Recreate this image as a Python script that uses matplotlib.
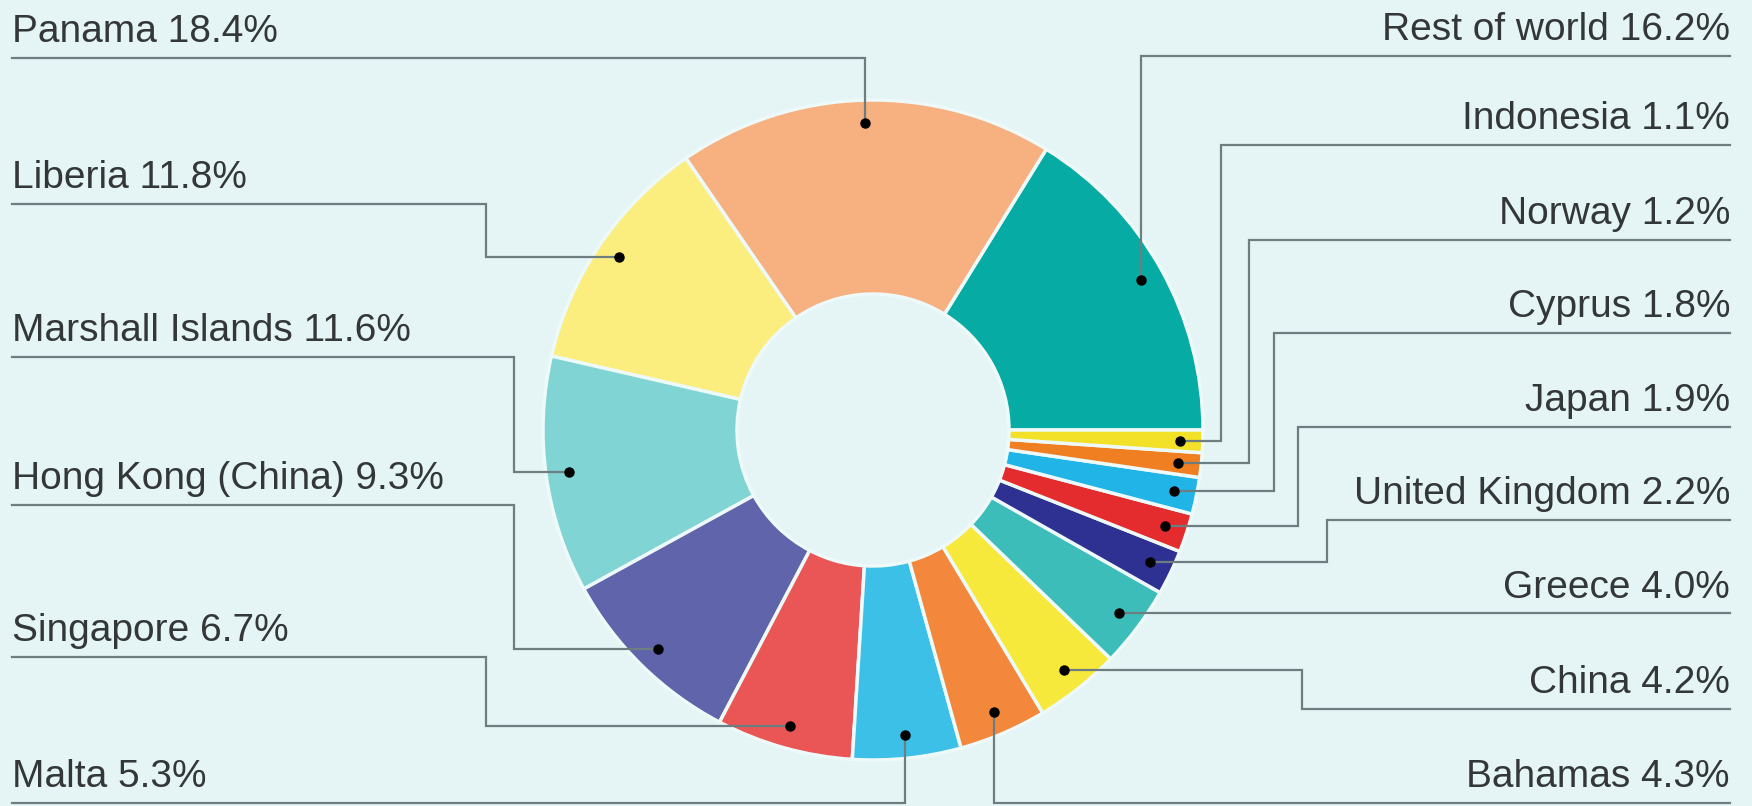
import matplotlib.pyplot as plt
import numpy as np

# shares of world fleet by flag, counter-clockwise from 3 o'clock
countries = ['Rest of world', 'Panama', 'Liberia', 'Marshall Islands',
             'Hong Kong (China)', 'Singapore', 'Malta', 'Bahamas', 'China',
             'Greece', 'United Kingdom', 'Japan', 'Cyprus', 'Norway', 'Indonesia']
shares = [16.2, 18.4, 11.8, 11.6, 9.3, 6.7, 5.3, 4.3, 4.2, 4.0, 2.2, 1.9, 1.8, 1.2, 1.1]
colors = ['#06aba3', '#f7b07f', '#fbee7e', '#80d4d3', '#5f64ab', '#ea5556',
          '#3cc0e8', '#f3883d', '#f7e93c', '#3dbdb9', '#2e3192', '#e42b2d',
          '#20b5e6', '#f07f22', '#f2e128']

# label layout (pixels from top / left): side, line y, elbow x (None = straight)
label_side = ['R', 'L', 'L', 'L', 'L', 'L', 'L', 'R', 'R', 'R', 'R', 'R', 'R', 'R', 'R']
label_line_y = [56, 58, 204, 357, 505, 657, 803, 803, 709, 614, 520, 427, 333, 240, 145]
label_elbow_x = [None, None, 486, 514, 514, 486, None, None, 1302, None, 1327, 1298, 1274, 1249, 1221]

W, H = 1752, 806
bg = '#e5f5f6'
cx, cy = 873, 430
R, r_in = 330, 136
line_col = '#6d7e80'
text_col = '#343738'

fig = plt.figure(figsize=(W / 100, H / 100), dpi=100, facecolor=bg)
ax = fig.add_axes([0, 0, 1, 1])
ax.set_facecolor(bg)

wedges, _ = ax.pie(shares, colors=colors, startangle=0, counterclock=True,
                   radius=R, center=(cx, H - cy),
                   wedgeprops=dict(width=R - r_in, edgecolor='#eef9f9', linewidth=2.5))
ax.set_xlim(0, W)
ax.set_ylim(0, H)
ax.axis('off')

for w, name, val, side, ly, ex in zip(wedges, countries, shares, label_side,
                                      label_line_y, label_elbow_x):
    mid = np.deg2rad((w.theta1 + w.theta2) / 2)
    dx = cx + 0.93 * R * np.cos(mid)
    dy = (H - cy) + 0.93 * R * np.sin(mid)
    y = H - ly
    x0 = 12 if side == 'L' else 1730
    if ex is None:
        if abs(dy - y) < 4:
            xs, ys = [x0, dx], [dy, dy]
        else:
            xs, ys = [x0, dx, dx], [y, y, dy]
    else:
        xs, ys = [x0, ex, ex, dx], [y, y, dy, dy]
    ax.plot(xs, ys, color=line_col, lw=1.6, solid_joinstyle='miter', zorder=3)
    ax.plot(dx, dy, 'o', color='black', ms=6.5, zorder=4)
    ax.text(x0, y + 16, f'{name} {val:.1f}%', ha='left' if side == 'L' else 'right',
            va='baseline', fontsize=28, color=text_col, family='Liberation Sans')

fig.savefig('out.png', dpi=100, facecolor=bg)
